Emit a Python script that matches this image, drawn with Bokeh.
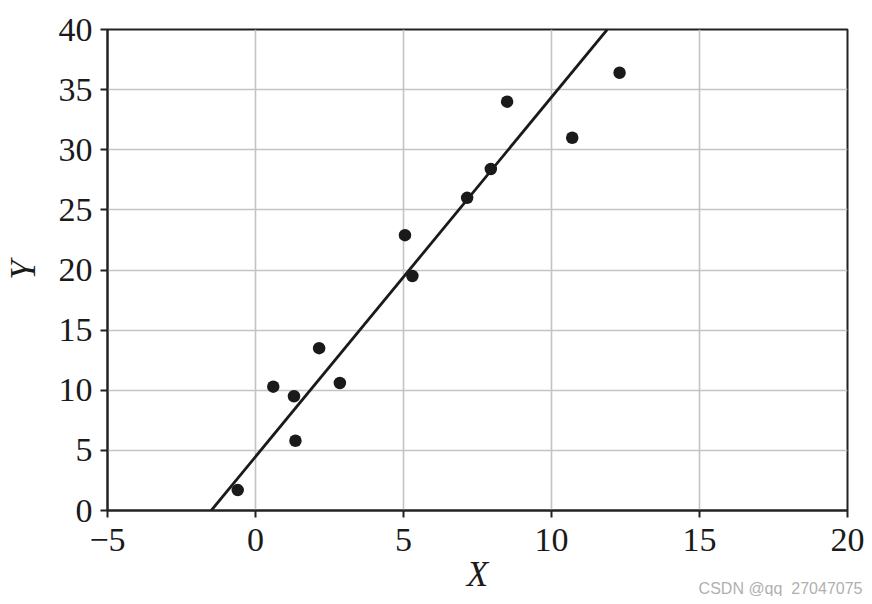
from bokeh.plotting import figure
from bokeh.models import Slope, FixedTicker, Range1d, Title
from bokeh.embed import file_html
from bokeh.resources import INLINE

# data
x_vals = [-0.6, 0.6, 1.3, 1.35, 2.15, 2.85, 5.05, 5.3, 7.15, 7.95, 8.5, 10.7, 12.3]
y_vals = [1.7, 10.3, 9.5, 5.8, 13.5, 10.6, 22.9, 19.5, 26.0, 28.4, 34.0, 31.0, 36.4]
fit_slope = 2.99
fit_intercept = 4.47
x_ticks = [-5, 0, 5, 10, 15, 20]
y_ticks = [0, 5, 10, 15, 20, 25, 30, 35, 40]

FONT = "Liberation Serif"

p = figure(width=864, height=596, output_backend="svg", toolbar_location=None,
           x_range=Range1d(-5, 20), y_range=Range1d(0, 40),
           min_border_left=107, min_border_right=17, min_border_top=29, min_border_bottom=86)
p.outline_line_color = "#222222"
p.outline_line_width = 2
p.outline_line_alpha = 1.0

for ax in (p.xaxis[0], p.yaxis[0]):
    ax.axis_line_color = "#222222"
    ax.axis_line_width = 2
    ax.major_tick_line_color = "#222222"
    ax.major_tick_line_width = 2
    ax.major_tick_out = 7
    ax.major_tick_in = 0
    ax.minor_tick_line_color = None
    ax.major_label_text_font = FONT
    ax.major_label_text_font_size = "34px"
    ax.major_label_text_color = "#1a1a1a"
    ax.axis_label_text_font = FONT
    ax.axis_label_text_font_size = "35px"
    ax.axis_label_text_font_style = "italic"
    ax.axis_label_text_color = "#1a1a1a"

p.xaxis.ticker = FixedTicker(ticks=x_ticks)
p.yaxis.ticker = FixedTicker(ticks=y_ticks)
p.xaxis.major_label_overrides = {-5: "\u22125"}
p.xaxis.axis_label = "X"
p.yaxis.axis_label = "Y"
p.xaxis.major_label_standoff = 11
p.yaxis.major_label_standoff = 8
p.xaxis.axis_label_standoff = 1
p.yaxis.axis_label_standoff = 13

p.grid.grid_line_color = "#c4c4c4"
p.grid.grid_line_width = 1.6
p.xgrid.ticker = FixedTicker(ticks=x_ticks)
p.ygrid.ticker = FixedTicker(ticks=y_ticks)

p.add_layout(Slope(gradient=fit_slope, y_intercept=fit_intercept,
                   line_color="#1a1a1a", line_width=2.8))
p.scatter(x_vals, y_vals, size=12.5, fill_color="#1a1a1a", line_color=None)

p.add_layout(Title(text="CSDN @qq_27047075", align="right", text_font="Liberation Sans",
                   text_font_size="16px", text_color="#b0b0b0", text_font_style="normal",
                   vertical_align="top", standoff=-34, offset=-15), "below")

open("out.html", "w").write(file_html(p, INLINE))
